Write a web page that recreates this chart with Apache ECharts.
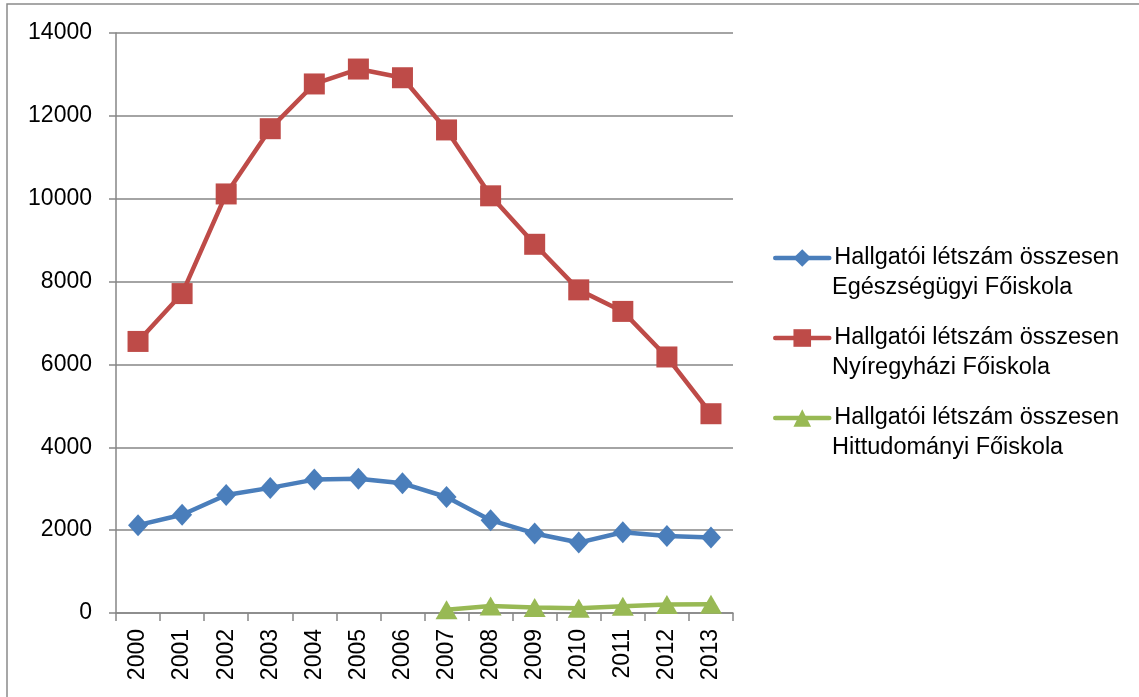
<!DOCTYPE html>
<html>
<head>
<meta charset="utf-8">
<script src="https://cdn.jsdelivr.net/npm/echarts@6/dist/echarts.min.js"></script>
<style>html,body{margin:0;padding:0;background:#fff}#c{width:1139px;height:697px}</style>
</head>
<body>
<div id="c"></div>
<script>
const years = ['2000','2001','2002','2003','2004','2005','2006','2007','2008','2009','2010','2011','2012','2013'];
const seriesNames = [
  'Hallgatói létszám összesen Egészségügyi Főiskola',
  'Hallgatói létszám összesen Nyíregyházi Főiskola',
  'Hallgatói létszám összesen Hittudományi Főiskola'
];
const legendLine1 = 'Hallgatói létszám összesen';
const legendLine2 = ['Egészségügyi Főiskola', 'Nyíregyházi Főiskola', 'Hittudományi Főiskola'];
const egeszsegugyi = [2120, 2370, 2850, 3020, 3220, 3240, 3130, 2800, 2240, 1920, 1700, 1950, 1860, 1820];
const nyiregyhazi = [6555, 7710, 10115, 11690, 12770, 13130, 12920, 11660, 10070, 8900, 7800, 7280, 6180, 4810];
const hittudomanyi = [null, null, null, null, null, null, null, 80, 170, 135, 115, 160, 205, 210];
const yTicks = { min: 0, max: 14000, interval: 2000 };

const colors = ['#4A7EBB', '#BE4B48', '#98B954'];
const symbols = ['diamond', 'rect', 'triangle'];
const symbolSizes = [[20, 22], 21, [22, 19]];
const dataSets = [egeszsegugyi, nyiregyhazi, hittudomanyi];
const font = 'Liberation Sans';
const axisFontSize = 23;
const legendFontSize = 23.5;
const legendCenters = [257, 337, 417];

const chart = echarts.init(document.getElementById('c'));
const option = {
  animation: false,
  backgroundColor: '#fff',
  grid: { left: 116, right: 406, top: 33, bottom: 84, containLabel: false },
  xAxis: {
    type: 'category',
    data: years,
    boundaryGap: true,
    axisLine: { lineStyle: { color: '#868686', width: 1.5 } },
    axisTick: { show: true, length: 8, lineStyle: { color: '#868686', width: 1.5 } },
    axisLabel: { rotate: 90, margin: 16, color: '#000', fontFamily: font, fontSize: axisFontSize },
    splitLine: { show: false }
  },
  yAxis: {
    type: 'value',
    min: yTicks.min, max: yTicks.max, interval: yTicks.interval,
    axisLine: { show: true, lineStyle: { color: '#868686', width: 1.5 } },
    axisTick: { show: true, length: 7, lineStyle: { color: '#868686', width: 1.5 } },
    axisLabel: { margin: 24, color: '#000', fontFamily: font, fontSize: axisFontSize, formatter: v => String(v) },
    splitLine: { show: true, lineStyle: { color: '#868686', width: 1.5 } }
  },
  legend: seriesNames.map((n, i) => ({
    data: [n],
    orient: 'vertical',
    left: 773,
    top: legendCenters[i] - 11,
    itemWidth: 54,
    itemHeight: 22,
    padding: 0,
    formatter: () => legendLine1,
    lineStyle: { width: 4.5, cap: 'round' },
    textStyle: { color: '#000', fontFamily: font, fontSize: legendFontSize },
    selectedMode: false
  })),
  graphic: [
    { type: 'rect', shape: { x: 7, y: 4, width: 1200, height: 800 }, style: { fill: 'none', stroke: '#8a8a8a', lineWidth: 1.5 }, silent: true },
    ...legendLine2.map((t, i) => ({
      type: 'text', left: 832, top: legendCenters[i] + 32 - 13,
      style: { text: t, fill: '#000', font: legendFontSize + 'px "' + font + '"' }
    }))
  ],
  series: dataSets.map((d, i) => ({
    name: seriesNames[i],
    type: 'line',
    data: d,
    symbol: symbols[i],
    symbolSize: symbolSizes[i],
    showAllSymbol: true,
    connectNulls: false,
    lineStyle: { color: colors[i], width: 4.5 },
    itemStyle: { color: colors[i] },
    z: i === 1 ? 3 : 2
  }))
};
chart.setOption(option);
</script>
</body>
</html>
